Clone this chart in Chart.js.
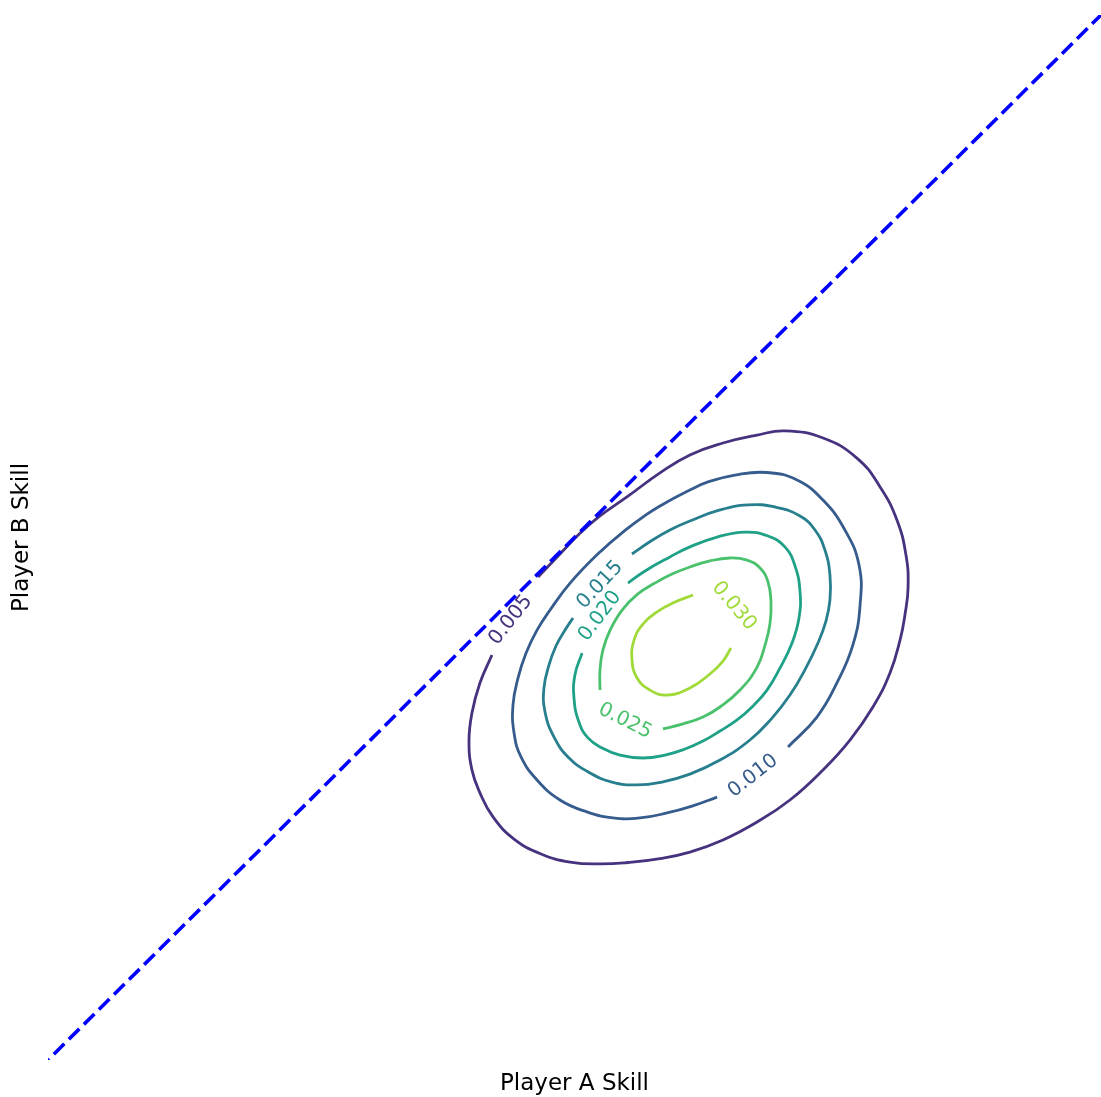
<!DOCTYPE html>
<html>
<head>
<meta charset="utf-8">
<script src="https://cdn.jsdelivr.net/npm/chart.js@4.4.1/dist/chart.umd.min.js"></script>
<style>
  html, body { margin: 0; padding: 0; background: #ffffff; }
  canvas { display: block; }
</style>
</head>
<body>
<canvas id="chart" width="1101" height="1097" style="width:1101px;height:1097px"></canvas>
<script>
// Joint skill density after a game: iso-density lines, one array of (A, B) points per level
const levels = [0.005, 0.010, 0.015, 0.020, 0.025, 0.030];

const ring005 = [[23.27,23.11],[24.31,24.21],[25.26,25.20],[26.21,26.03],[27.49,26.94],[29.06,28.09],[30.48,28.95],[32.05,29.52],[33.67,29.90],[34.99,30.10],[36.80,29.76],[38.41,28.80],[39.51,27.42],[40.31,25.84],[40.74,24.16],[40.84,22.63],[40.69,21.29],[40.46,20.10],[39.98,18.52],[39.17,16.89],[38.08,15.31],[36.80,13.88],[35.23,12.44],[33.67,11.39],[32.05,10.53],[30.48,9.95],[29.06,9.64],[27.54,9.45],[26.21,9.38],[24.79,9.47],[23.41,9.86],[22.13,10.57],[21.13,11.63],[20.51,12.78],[20.13,13.88],[19.99,15.26],[20.13,16.60],[20.51,18.04],[21.08,19.38]];

const ring010 = [[35.14,14.98],[36.51,16.41],[37.46,18.04],[38.22,19.86],[38.56,21.77],[38.51,23.68],[37.84,25.36],[36.80,26.79],[35.57,27.75],[34.14,28.11],[32.62,27.99],[31.34,27.66],[30.48,27.27],[29.06,26.51],[28.25,25.98],[27.49,25.41],[26.21,24.31],[24.79,22.82],[23.84,21.53],[23.22,20.57],[22.70,19.47],[22.32,18.28],[22.08,16.99],[22.13,15.65],[22.46,14.50],[23.22,13.40],[24.31,12.44],[25.59,11.87],[26.83,11.58],[28.11,11.58],[29.39,11.82],[30.58,12.15],[31.77,12.58]];

const ring015 = [[27.73,24.21],[28.63,24.83],[29.53,25.36],[30.48,25.79],[31.91,26.32],[33.24,26.56],[34.52,26.46],[35.71,26.03],[36.42,25.36],[36.89,24.40],[37.13,23.21],[37.13,22.01],[36.94,21.00],[36.56,19.95],[35.99,18.76],[35.23,17.46],[34.38,16.36],[33.33,15.31],[31.91,14.35],[30.48,13.68],[29.15,13.30],[27.97,13.16],[26.78,13.30],[25.74,13.73],[24.74,14.45],[24.03,15.45],[23.60,16.65],[23.55,17.80],[23.79,18.90],[24.12,19.81],[24.55,20.57],[24.93,21.15]];

const ring020 = [[27.54,22.82],[28.35,23.40],[29.53,24.07],[30.48,24.55],[31.77,25.02],[33.10,25.26],[34.19,25.07],[34.99,24.55],[35.47,23.64],[35.71,22.39],[35.66,21.15],[35.33,19.95],[34.76,18.76],[34.14,17.70],[33.43,16.89],[32.72,16.27],[31.91,15.74],[31.10,15.26],[30.25,14.88],[29.30,14.59],[28.25,14.45],[27.16,14.59],[26.31,14.93],[25.64,15.41],[25.21,16.17],[24.98,17.27],[25.02,18.42],[25.36,19.47]];

const ring025 = [[26.21,17.70],[26.21,18.66],[26.35,19.62],[26.69,20.57],[27.26,21.53],[28.01,22.30],[28.82,22.82],[29.63,23.25],[30.48,23.59],[31.43,23.88],[32.38,24.02],[33.19,23.92],[33.81,23.54],[34.19,22.87],[34.33,21.91],[34.28,20.86],[34.05,19.86],[33.67,18.80],[32.86,17.70],[31.91,16.89],[31.10,16.41],[30.15,16.08],[29.20,15.84]];

const ring030 = [[30.63,22.25],[29.77,21.91],[28.92,21.44],[28.25,20.86],[27.83,20.10],[27.73,19.14],[27.97,18.28],[28.58,17.70],[29.39,17.46],[30.48,17.80],[31.43,18.47],[32.05,19.09],[32.43,19.71]];

const rings = [ring005, ring010, ring015, ring020, ring025, ring030];

// Inline level labels: anchor (A, B) and text rotation in degrees
const labelX = [21.98, 33.48, 26.21, 26.21, 27.40, 32.57];
const labelY = [21.05, 13.59, 22.73, 21.24, 16.22, 21.72];
const labelAngle = [-52, -38, -47, -53, 27, 50];

// Equal-skill reference line A = B
const diagonal = [0, 50];

const axisTitleX = 'Player A Skill';
const axisTitleY = 'Player B Skill';

// viridis colours for the six levels
const levelColors = ['#46327e', '#365c8d', '#277f8e', '#1fa187', '#4ac16d', '#a0da39'];

const datasets = [{
  label: 'A = B',
  data: diagonal.map(v => ({ x: v, y: v })),
  showLine: true,
  borderColor: '#0000ff',
  borderWidth: 3.6,
  borderDash: [14.8, 6.4],
  borderDashOffset: 13,
  pointRadius: 0,
  tension: 0,
  order: 0
}].concat(rings.map((ring, i) => ({
  label: levels[i].toFixed(3),
  data: ring.map(p => ({ x: p[0], y: p[1] })),
  showLine: true,
  borderColor: levelColors[i],
  borderWidth: 2.8,
  pointRadius: 0,
  tension: 0.45,
  order: 1
})));

const contourLabels = {
  id: 'contourLabels',
  afterDatasetsDraw(chart) {
    const ctx = chart.ctx;
    const xs = chart.scales.x, ys = chart.scales.y;
    ctx.save();
    ctx.font = '20px "DejaVu Sans"';
    ctx.textAlign = 'center';
    ctx.textBaseline = 'middle';
    levels.forEach((lv, i) => {
      const px = xs.getPixelForValue(labelX[i]);
      const py = ys.getPixelForValue(labelY[i]);
      ctx.save();
      ctx.translate(px, py);
      ctx.rotate(labelAngle[i] * Math.PI / 180);
      ctx.fillStyle = levelColors[i];
      ctx.fillText(lv.toFixed(3), 0, 0);
      ctx.restore();
    });
    ctx.restore();
  }
};

const axisTitles = {
  id: 'axisTitles',
  afterDraw(chart) {
    const ctx = chart.ctx;
    const a = chart.chartArea;
    ctx.save();
    ctx.font = '23px "DejaVu Sans"';
    ctx.fillStyle = '#000000';
    ctx.textAlign = 'center';
    ctx.textBaseline = 'middle';
    ctx.fillText(axisTitleX, (a.left + a.right) / 2, a.bottom + 24);
    ctx.translate(a.left - 26, (a.top + a.bottom) / 2);
    ctx.rotate(-Math.PI / 2);
    ctx.fillText(axisTitleY, 0, 0);
    ctx.restore();
  }
};

new Chart(document.getElementById('chart'), {
  type: 'scatter',
  data: { datasets },
  options: {
    responsive: false,
    devicePixelRatio: 1,
    animation: false,
    layout: { padding: { left: 48, top: 15, right: 0, bottom: 37 } },
    scales: {
      x: { type: 'linear', min: diagonal[0], max: diagonal[1], display: false },
      y: { type: 'linear', min: diagonal[0], max: diagonal[1], display: false }
    },
    plugins: { legend: { display: false }, tooltip: { enabled: false } }
  },
  plugins: [contourLabels, axisTitles]
});
</script>
</body>
</html>
